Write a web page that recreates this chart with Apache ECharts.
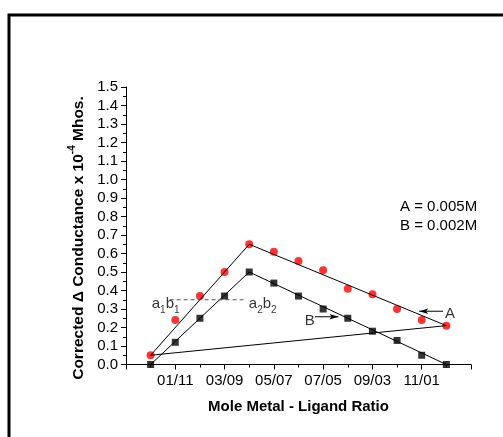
<!DOCTYPE html>
<html><head><meta charset="utf-8">
<script src="https://cdn.jsdelivr.net/npm/echarts@6/dist/echarts.min.js"></script>
<style>html,body{margin:0;padding:0;background:#fff}#c{width:503px;height:437px}</style>
</head><body><div id="c"></div>
<script>
// Mole ratio index (0 = 00/12 ... 12 = 12/00)
const ratioIndex = [0,1,2,3,4,5,6,7,8,9,10,11,12];
const seriesA = [0.05,0.24,0.37,0.50,0.65,0.61,0.56,0.51,0.41,0.38,0.30,0.24,0.21];
const seriesB = [0.00,0.12,0.25,0.37,0.50,0.44,0.37,0.30,0.25,0.18,0.13,0.05,0.00];
const tickValues = [1,3,5,7,9,11];
const tickLabels = ['01/11','03/09','05/07','07/05','09/03','11/01'];
// drawn straight lines
const fitA = [[0,0.05],[4,0.65],[12,0.21]];
const fitB = [[0,0.00],[4,0.50],[12,0.00]];
const baseLine = [[0,0.05],[12,0.21]];
const dashLine = [[0.77,0.35],[3.82,0.35]];
const arrowA = [[11.87,0.288],[10.9,0.288]];
const arrowB = [[6.67,0.258],[7.62,0.258]];
const notes = [[0.61,0.33,'{t|a}{s|1}{t|b}{s|1}'],[4.55,0.33,'{t|a}{s|2}{t|b}{s|2}'],[12.15,0.273,'{t|A}'],[6.46,0.235,'{t|B}']];

const chart = echarts.init(document.getElementById('c'));
const FONT = '"Liberation Sans", Arial, sans-serif';
const rich = {
  t:{fontSize:15,lineHeight:24,fontFamily:FONT,color:'#000'},
  s:{fontSize:10,lineHeight:10,verticalAlign:'bottom',fontFamily:FONT,color:'#000'}
};
function toPairs(xs, ys){ return xs.map((x,i)=>[x,ys[i]]); }
function arrowData(seg, rot){
  return [{value:seg[0],symbol:'none'},{value:seg[1],symbol:'arrow',symbolSize:[4,9],symbolRotate:rot}];
}
const plainLine = {type:'line',silent:true,symbol:'none',lineStyle:{color:'#000',width:1},z:3};
chart.setOption({
  animation:false,
  backgroundColor:'#fff',
  grid:{left:126,right:32,top:87,bottom:72.5},
  xAxis:{type:'value',min:-1,max:13,interval:2,
    axisLine:{lineStyle:{color:'#000',width:1}},
    axisTick:{length:5,lineStyle:{color:'#000'}},
    minorTick:{show:true,splitNumber:2,length:3,lineStyle:{color:'#000'}},
    splitLine:{show:false},
    axisLabel:{margin:9,color:'#000',fontSize:15,fontFamily:FONT,
      formatter:v=>{const i=tickValues.indexOf(Math.round(v));return i>=0?tickLabels[i]:'';}},
    name:'Mole Metal - Ligand Ratio',nameLocation:'middle',nameGap:35,
    nameTextStyle:{fontSize:15,fontWeight:'bold',fontFamily:FONT,color:'#000'}
  },
  yAxis:{type:'value',min:0,max:1.5,interval:0.1,
    axisLine:{show:true,onZero:false,lineStyle:{color:'#000',width:1}},
    axisTick:{show:true,length:5,lineStyle:{color:'#000'}},
    minorTick:{show:true,splitNumber:2,length:3,lineStyle:{color:'#000'}},
    splitLine:{show:false},
    axisLabel:{margin:8,color:'#000',fontSize:15,fontFamily:FONT,formatter:v=>v.toFixed(1)}
  },
  graphic:[
    {type:'rect',shape:{x:9,y:15,width:700,height:700},style:{fill:'none',stroke:'#000',lineWidth:3},silent:true},
    {type:'text',x:79,y:238,rotation:Math.PI/2,style:{
      text:'{b|Corrected Δ Conductance x 10}{p|-4}{b| Mhos.}',
      align:'center',verticalAlign:'middle',
      rich:{b:{fontSize:15.5,fontWeight:'bold',lineHeight:24,fontFamily:FONT,fill:'#000'},
            p:{fontSize:10,fontWeight:'bold',lineHeight:10,verticalAlign:'top',fontFamily:FONT,fill:'#000'}}
    }},
    {type:'text',left:400,top:197,style:{text:'A = 0.005M\nB = 0.002M',fontSize:15,lineHeight:19,fontFamily:FONT,fill:'#000'}}
  ],
  series:[
    Object.assign({},plainLine,{data:fitA}),
    Object.assign({},plainLine,{data:fitB}),
    Object.assign({},plainLine,{data:baseLine}),
    Object.assign({},plainLine,{data:dashLine,lineStyle:{color:'#555',width:1,type:[4,3]}}),
    Object.assign({},plainLine,{data:arrowData(arrowA,90),itemStyle:{color:'#000'}}),
    Object.assign({},plainLine,{data:arrowData(arrowB,-90),itemStyle:{color:'#000'}}),
    {type:'scatter',name:'A',data:toPairs(ratioIndex,seriesA),symbol:'circle',symbolSize:8,itemStyle:{color:'#ff0000'},z:2},
    {type:'scatter',name:'B',data:toPairs(ratioIndex,seriesB),symbol:'rect',symbolSize:7,itemStyle:{color:'#000'},z:2},
    {type:'scatter',silent:true,symbolSize:0,data:notes.map(n=>({value:[n[0],n[1]],text:n[2]})),
      label:{show:true,position:'inside',formatter:p=>p.data.text,rich:rich}}
  ]
});
</script></body></html>
